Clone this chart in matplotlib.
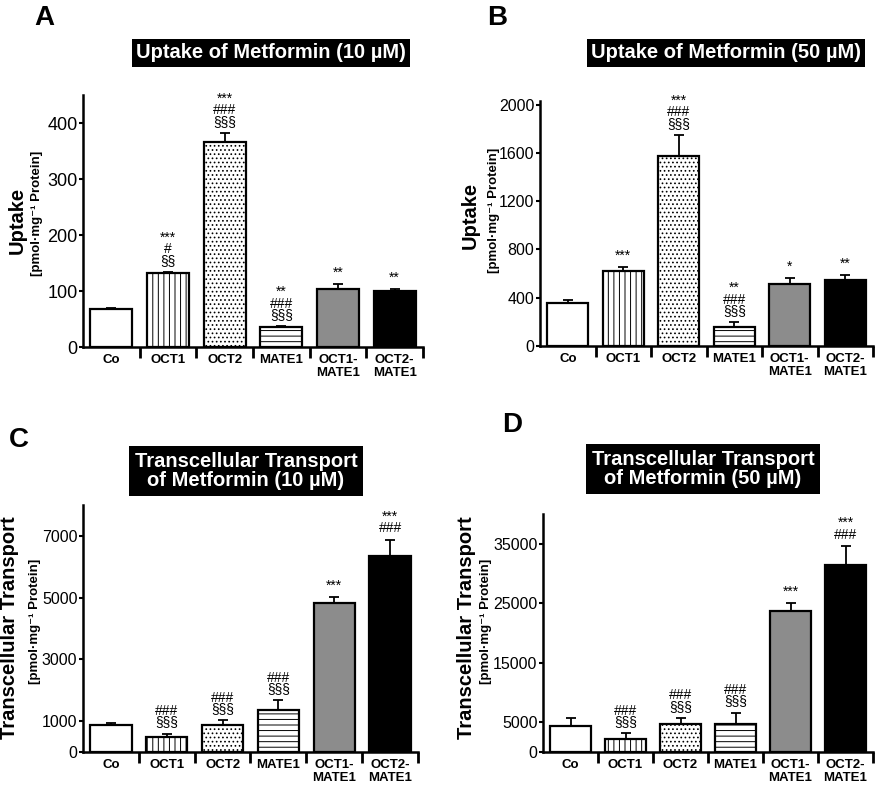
import numpy as np
import matplotlib
matplotlib.use('Agg')
import matplotlib.pyplot as plt
from matplotlib.ticker import FixedLocator

plt.rcParams['font.family'] = ['Liberation Sans', 'DejaVu Sans']
plt.rcParams['hatch.linewidth'] = 0.7

# categorias y datos
categorias = ['Co', 'OCT1', 'OCT2', 'MATE1', 'OCT1-\nMATE1', 'OCT2-\nMATE1']

uptake10 = [68, 132, 366, 36, 104, 100]
uptake10_err = [1, 2, 16, 1, 9, 3]
uptake10_sig = ['', '***\n#\n§§', '***\n###\n§§§', '**\n###\n§§§', '**', '**']

uptake50 = [360, 625, 1575, 160, 510, 550]
uptake50_err = [20, 30, 172, 35, 50, 35]
uptake50_sig = ['', '***', '***\n###\n§§§', '**\n###\n§§§', '*', '**']

trans10 = [885, 496, 863, 1348, 4833, 6354]
trans10_err = [55, 97, 162, 324, 183, 528]
trans10_sig = ['', '###\n§§§', '###\n§§§', '###\n§§§', '***', '***\n###']

trans50 = [4380, 2250, 4720, 4720, 23760, 31400]
trans50_err = [1350, 900, 1010, 1910, 1350, 3260]
trans50_sig = ['', '###\n§§§', '###\n§§§', '###\n§§§', '***', '***\n###']

# estilo de cada barra
colores = ['white', 'white', 'white', 'white', '#8c8c8c', 'black']
tramas = [None, '|||', '....', '---', None, None]

W, H = 875, 785
fig = plt.figure(figsize=(W / 100, H / 100), dpi=100)


def add_ax(l, r, t, b):
    return fig.add_axes([l / W, 1 - b / H, (r - l) / W, (b - t) / H])


def panel(ax, vals, errs, sigs, ylim, yticks, ytick_size):
    x = np.arange(len(vals))
    ax.bar(x, vals, width=0.74, color=colores, edgecolor='black',
           linewidth=1.6, hatch=tramas, zorder=2)
    ax.errorbar(x, vals, yerr=[np.zeros(len(errs)), errs], fmt='none',
                ecolor='black', elinewidth=1.3, capsize=3.5, capthick=1.3, zorder=1)
    for xi, v, e, s in zip(x, vals, errs, sigs):
        if s:
            ax.annotate(s, (xi, v + e), xytext=(0, 3), textcoords='offset points',
                        ha='center', va='bottom', fontsize=10, linespacing=0.78)
    ax.set_xlim(-0.5, 5.5)
    ax.set_ylim(*ylim)
    ax.set_yticks(yticks)
    ax.set_xticks(x)
    ax.set_xticklabels(categorias, fontsize=9.5, fontweight='bold', linespacing=1.15)
    ax.xaxis.set_minor_locator(FixedLocator(np.arange(0.5, 6, 1)))
    ax.tick_params(axis='x', which='major', length=0, pad=5)
    ax.tick_params(axis='x', which='minor', length=8, width=2, direction='out')
    ax.tick_params(axis='y', length=3, width=1.5, labelsize=ytick_size, pad=1)
    for s in ['top', 'right']:
        ax.spines[s].set_visible(False)
    for s in ['left', 'bottom']:
        ax.spines[s].set_linewidth(1.8)


axA = add_ax(83, 423, 95, 347)
panel(axA, uptake10, uptake10_err, uptake10_sig, (0, 450), [0, 100, 200, 300, 400], 13)
axB = add_ax(540, 873, 101, 346)
panel(axB, uptake50, uptake50_err, uptake50_sig, (0, 2030), [0, 400, 800, 1200, 1600, 2000], 11.5)
axC = add_ax(83, 418, 505, 752)
panel(axC, trans10, trans10_err, trans10_sig, (0, 8000), [0, 1000, 3000, 5000, 7000], 11.5)
axD = add_ax(543, 873, 514, 752)
panel(axD, trans50, trans50_err, trans50_sig, (0, 40000), [0, 5000, 15000, 25000, 35000], 11.5)


def ftext(x, y, s, **kw):
    fig.text(x / W, 1 - y / H, s, **kw)


# letras de panel
for letra, lx, ly in [('A', 34, 18), ('B', 487, 18), ('C', 9, 440), ('D', 502, 425)]:
    ftext(lx, ly, letra, fontsize=20, fontweight='bold', ha='left', va='center')

# titulos en caja negra
caja = dict(facecolor='black', edgecolor='none', pad=3)
caja2 = dict(facecolor='black', edgecolor='none', pad=4)
ftext(271, 53, 'Uptake of Metformin (10 µM)', color='white', fontsize=14.5,
      fontweight='bold', ha='center', va='center', bbox=caja)
ftext(726, 53, 'Uptake of Metformin (50 µM)', color='white', fontsize=14.5,
      fontweight='bold', ha='center', va='center', bbox=caja)
ftext(246, 471, 'Transcellular Transport\nof Metformin (10 µM)', color='white', fontsize=14.5,
      fontweight='bold', ha='center', va='center', bbox=caja2, linespacing=1.0)
ftext(703, 469, 'Transcellular Transport\nof Metformin (50 µM)', color='white', fontsize=14.5,
      fontweight='bold', ha='center', va='center', bbox=caja2, linespacing=1.0)

# etiquetas del eje y
unidad = '[pmol·mg⁻¹ Protein]'
for gx, ux, gy, uy, txt in [(17, 37, 220, 213, 'Uptake'), (470, 494, 215, 210, 'Uptake'),
                            (10, 35, 628, 621, 'Transcellular Transport'),
                            (466, 486, 628, 621, 'Transcellular Transport')]:
    ftext(gx, gy, txt, rotation=90, fontsize=14.5, fontweight='bold', ha='center', va='center')
    ftext(ux, uy, unidad, rotation=90, fontsize=9.5, fontweight='bold', ha='center', va='center')

plt.savefig('out.png', dpi=100)
